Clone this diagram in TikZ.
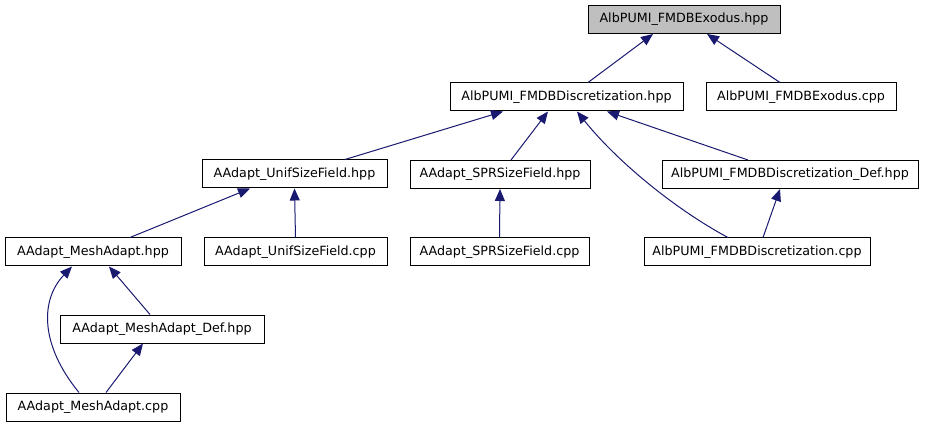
\documentclass[tikz,border=0pt]{standalone}
\usepackage{fontspec}
\setmainfont{DejaVu Sans}
\usetikzlibrary{arrows.meta}
\definecolor{edgeblue}{HTML}{191970}
\definecolor{topgray}{HTML}{BFBFBF}
\begin{document}
\begin{tikzpicture}[x=1pt,y=-1pt,
  filebox/.style={draw=black,line width=1pt,fill=white,minimum height=28pt,inner sep=0pt,font=\fontsize{12.7}{15}\selectfont},
  topbox/.style={filebox,fill=topgray},
  edge/.style={draw=edgeblue,line width=1pt,{Triangle[length=12pt,width=10pt]}-}]
\useasboundingbox (0,0) rectangle (936,427);
\node[topbox,minimum width=192pt] (ex) at (684,19.5) {AlbPUMI\_FMDBExodus.hpp};
\node[filebox,minimum width=233pt] (dh) at (566.5,97) {AlbPUMI\_FMDBDiscretization.hpp};
\node[filebox,minimum width=190pt] (ec) at (801,97) {AlbPUMI\_FMDBExodus.cpp};
\node[filebox,minimum width=185pt] (uh) at (294.5,174) {AAdapt\_UnifSizeField.hpp};
\node[filebox,minimum width=180pt] (sh) at (500,174.5) {AAdapt\_SPRSizeField.hpp};
\node[filebox,minimum width=256pt] (dd) at (790,174.5) {AlbPUMI\_FMDBDiscretization\_Def.hpp};
\node[filebox,minimum width=176pt] (mh) at (93,252) {AAdapt\_MeshAdapt.hpp};
\node[filebox,minimum width=183pt] (uc) at (295.5,252) {AAdapt\_UnifSizeField.cpp};
\node[filebox,minimum width=179pt] (sc) at (499.5,252) {AAdapt\_SPRSizeField.cpp};
\node[filebox,minimum width=226pt] (dc) at (757,252) {AlbPUMI\_FMDBDiscretization.cpp};
\node[filebox,minimum width=204pt] (md) at (162,329) {AAdapt\_MeshAdapt\_Def.hpp};
\node[filebox,minimum width=174pt] (mc) at (93,407) {AAdapt\_MeshAdapt.cpp};
\draw[edge] ([xshift=-31pt]ex.south) -- ([xshift=21.5pt]dh.north);
\draw[edge] ([xshift=23pt]ex.south) -- ([xshift=-21pt]ec.north);
\draw[edge] ([xshift=-63.5pt]dh.south) -- ([xshift=50.5pt]uh.north);
\draw[edge] ([xshift=-18.5pt]dh.south) -- ([xshift=11pt]sh.north);
\draw[edge] ([xshift=10.5pt]dh.south) .. controls (620,165) and (680,212) .. ([xshift=-29pt]dc.north);
\draw[edge] ([xshift=40.5pt]dh.south) -- ([xshift=-42pt]dd.north);
\draw[edge] ([xshift=-44.5pt]uh.south) -- ([xshift=37pt]mh.north);
\draw[edge] (uh.south) -- (uc.north);
\draw[edge] (sh.south) -- (sc.north);
\draw[edge] ([xshift=-10pt]dd.south) -- ([xshift=6pt]dc.north);
\draw[edge] ([xshift=16pt]mh.south) -- ([xshift=-12pt]md.north);
\draw[edge] ([xshift=-21pt]mh.south) .. controls (40,300) and (40,345) .. ([xshift=-14pt]mc.north);
\draw[edge] ([xshift=-19pt]md.south) -- ([xshift=13pt]mc.north);
\end{tikzpicture}
\end{document}
